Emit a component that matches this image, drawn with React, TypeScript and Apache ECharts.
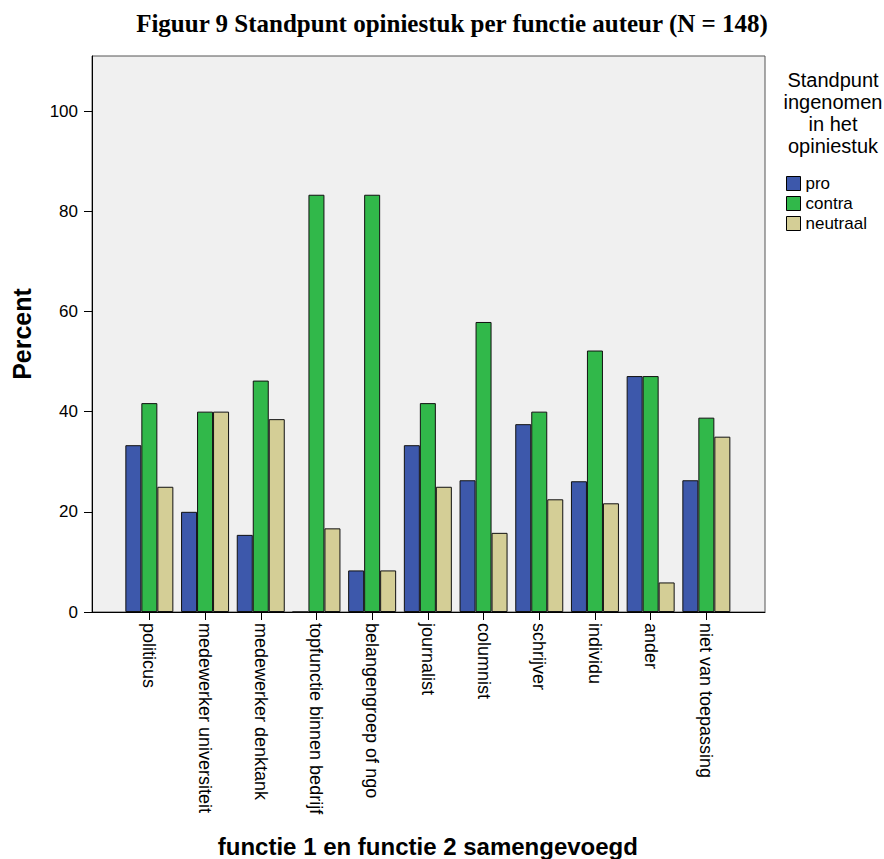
import React, { useEffect, useRef } from "react";
import * as echarts from "echarts";

const categories = [
  "politicus",
  "medewerker universiteit",
  "medewerker denktank",
  "topfunctie binnen bedrijf",
  "belangengroep of ngo",
  "journalist",
  "columnist",
  "schrijver",
  "individu",
  "ander",
  "niet van toepassing",
];
const proValues = [33.3, 20.0, 15.4, 0, 8.3, 33.3, 26.3, 37.5, 26.1, 47.1, 26.3];
const contraValues = [41.7, 40.0, 46.2, 83.3, 83.3, 41.7, 57.9, 40.0, 52.2, 47.1, 38.8];
const neutraalValues = [25.0, 40.0, 38.5, 16.7, 8.3, 25.0, 15.8, 22.5, 21.7, 5.9, 35.0];
const yTicks = [0, 20, 40, 60, 80, 100];
const seriesNames = ["pro", "contra", "neutraal"];
const seriesColors = ["#3d58ab", "#31b84a", "#d4ce96"];

const SANS = "'Liberation Sans', Arial, sans-serif";

export default function App() {
  const ref = useRef<HTMLDivElement>(null);
  useEffect(() => {
    if (!ref.current) return;
    const chart = echarts.init(ref.current, undefined, { renderer: "svg" });
    const seriesData = [proValues, contraValues, neutraalValues];
    chart.setOption({
      animation: false,
      backgroundColor: "#ffffff",
      title: {
        text: "Figuur 9 Standpunt opiniestuk per functie auteur (N = 148)",
        left: 447,
        textAlign: "center",
        top: 6,
        textStyle: {
          fontFamily: "'Liberation Serif', 'Times New Roman', serif",
          fontWeight: "bold",
          fontSize: 25,
          color: "#000",
        },
      },
      graphic: [
        {
          type: "text",
          x: 833,
          y: 69,
          style: {
            text: "Standpunt\ningenomen\nin het\nopiniestuk",
            fontFamily: SANS,
            fontSize: 20,
            lineHeight: 22,
            fill: "#000",
            align: "center",
            verticalAlign: "top",
          },
        },
      ],
      legend: {
        orient: "vertical",
        left: 786,
        top: 175,
        padding: 0,
        itemWidth: 14,
        itemHeight: 14,
        itemGap: 3,
        icon: "rect",
        data: seriesNames,
        itemStyle: { borderColor: "#000", borderWidth: 1 },
        textStyle: { fontFamily: SANS, fontSize: 17, lineHeight: 17, color: "#000" },
      },
      grid: [
        {
          left: 92,
          top: 56,
          right: 119,
          bottom: 247,
          show: true,
          backgroundColor: "#f0f0f0",
          borderColor: "#555",
          borderWidth: 1,
          outerBoundsMode: "none",
          containLabel: false,
        },
        {
          left: 121.5,
          top: 56,
          width: 612.7,
          bottom: 247,
          outerBoundsMode: "none",
          containLabel: false,
        },
      ],
      xAxis: [
        {
          gridIndex: 0,
          type: "value",
          min: 0,
          max: 1,
          axisLine: { show: true, lineStyle: { color: "#000", width: 1 } },
          axisTick: { show: false },
          axisLabel: { show: false },
          splitLine: { show: false },
        },
        {
          gridIndex: 1,
          type: "category",
          data: categories,
          axisLine: { show: false },
          axisTick: {
            show: true,
            alignWithLabel: true,
            length: 8,
            lineStyle: { color: "#000", width: 1 },
          },
          axisLabel: {
            rotate: -90,
            margin: 11,
            interval: 0,
            fontFamily: SANS,
            fontSize: 18,
            color: "#000",
          },
          name: "functie 1 en functie 2 samengevoegd",
          nameLocation: "middle",
          nameGap: 222,
          nameTextStyle: {
            fontFamily: SANS,
            fontWeight: "bold",
            fontSize: 24,
            color: "#000",
          },
        },
      ],
      yAxis: [
        {
          gridIndex: 0,
          type: "value",
          min: 0,
          max: 111,
          interval: 20,
          axisLine: { show: true, lineStyle: { color: "#000", width: 1 } },
          axisTick: {
            show: true,
            length: 8,
            customValues: yTicks,
            lineStyle: { color: "#000" },
          },
          axisLabel: {
            customValues: yTicks,
            margin: 14,
            fontFamily: SANS,
            fontSize: 17,
            color: "#000",
          },
          splitLine: { show: false },
          name: "Percent",
          nameLocation: "middle",
          nameGap: 58,
          nameTextStyle: {
            fontFamily: SANS,
            fontWeight: "bold",
            fontSize: 25,
            color: "#000",
          },
        },
        {
          gridIndex: 1,
          type: "value",
          min: 0,
          max: 111,
          show: false,
          splitLine: { show: false },
        },
      ],
      series: seriesNames.map((name, i) => ({
        name,
        type: "bar",
        xAxisIndex: 1,
        yAxisIndex: 1,
        data: seriesData[i],
        barWidth: 16,
        barGap: "0%",
        itemStyle: {
          color: seriesColors[i],
          borderColor: "#111",
          borderWidth: 1,
        },
      })),
    });
    return () => chart.dispose();
  }, []);
  return (
    <div
      ref={ref}
      style={{ position: "fixed", left: 0, top: 0, width: 884, height: 859 }}
    />
  );
}
